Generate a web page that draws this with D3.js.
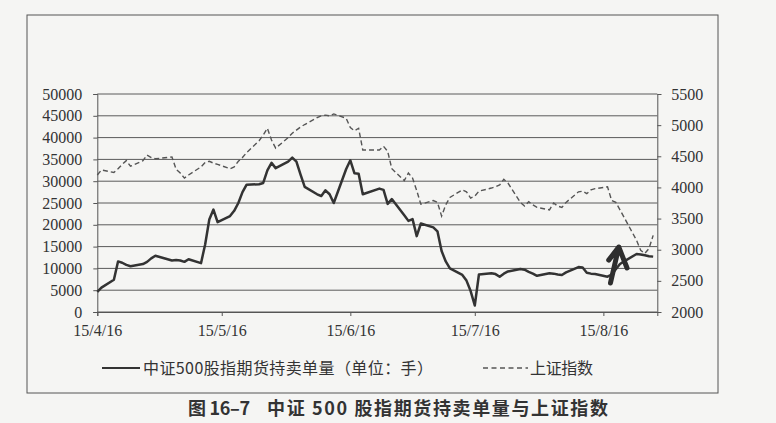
<!DOCTYPE html>
<html><head><meta charset="utf-8">
<script src="https://cdn.jsdelivr.net/npm/d3@7"></script>
<style>html,body{margin:0;padding:0;background:#f5f5f3;} svg{display:block}
.ax text{font-family:"Liberation Serif","Times New Roman","DejaVu Serif",serif !important;font-size:16px !important;fill:#333;}
.cjk{font-family:"Noto Sans CJK SC","Noto Sans",sans-serif;}
</style>
</head><body><svg id="c" width="776" height="423"></svg>
<script>
// ---- data ----
const dates = [
"2015-04-16","2015-04-17","2015-04-20","2015-04-21","2015-04-22","2015-04-23","2015-04-24","2015-04-27","2015-04-28","2015-04-29","2015-04-30",
"2015-05-04","2015-05-05","2015-05-06","2015-05-07","2015-05-08","2015-05-11","2015-05-12","2015-05-13","2015-05-14","2015-05-15",
"2015-05-18","2015-05-19","2015-05-20","2015-05-21","2015-05-22","2015-05-25","2015-05-26","2015-05-27","2015-05-28","2015-05-29",
"2015-06-01","2015-06-02","2015-06-03","2015-06-04","2015-06-05","2015-06-08","2015-06-09","2015-06-10","2015-06-11","2015-06-12",
"2015-06-15","2015-06-16","2015-06-17","2015-06-18","2015-06-19","2015-06-23","2015-06-24","2015-06-25","2015-06-26","2015-06-29","2015-06-30",
"2015-07-01","2015-07-02","2015-07-03","2015-07-06","2015-07-07","2015-07-08","2015-07-09","2015-07-10","2015-07-13","2015-07-14","2015-07-15",
"2015-07-16","2015-07-17","2015-07-20","2015-07-21","2015-07-22","2015-07-23","2015-07-24","2015-07-27","2015-07-28","2015-07-29","2015-07-30","2015-07-31",
"2015-08-03","2015-08-04","2015-08-05","2015-08-06","2015-08-07","2015-08-10","2015-08-11","2015-08-12","2015-08-13","2015-08-14",
"2015-08-17","2015-08-18","2015-08-19","2015-08-20","2015-08-21","2015-08-24","2015-08-25","2015-08-26","2015-08-27","2015-08-28"
];
const holdings = [
4600,5600,7400,11600,11300,10800,10500,11000,11500,12300,12900,
11800,11900,11800,11500,12100,11200,15500,21200,23500,20600,
22000,23200,25000,27500,29200,29300,29600,32500,34200,33000,
34500,35400,34500,31500,28700,27000,26600,27900,27000,25000,
32800,34800,31800,31700,27000,28300,28000,24800,25900,22200,20900,
21300,17400,20300,19400,18500,14000,11600,10000,8500,7200,4800,
1500,8600,8900,8700,8100,8800,9300,9850,9700,9200,8800,8300,
8900,8800,8600,8500,9100,10300,10200,9000,8800,8700,
8100,8600,9800,11000,11600,13300,13200,13000,12800,12700
];
const shIndex = [
4200,4280,4240,4300,4370,4430,4340,4430,4520,4480,4460,
4490,4290,4230,4150,4200,4330,4400,4420,4390,4370,
4300,4330,4420,4480,4560,4750,4840,4950,4760,4630,
4800,4870,4920,4970,5010,5120,5150,5160,5150,5180,
5110,4960,4910,4950,4600,4600,4660,4580,4300,4110,4230,
4150,3950,3730,3790,3760,3540,3720,3840,3960,3930,3830,
3860,3940,3990,4010,4040,4130,4070,3760,3700,3770,3720,3680,
3640,3750,3700,3680,3760,3930,3940,3900,3960,3980,
4010,3790,3760,3640,3520,3150,2990,2940,3020,3230
];
const leftTicks = [0,5000,10000,15000,20000,25000,30000,35000,40000,45000,50000];
const rightTicks = [2000,2500,3000,3500,4000,4500,5000,5500];
const xTickDates = ["2015-04-16","2015-05-16","2015-06-16","2015-07-16","2015-08-16"];
const xDomain = ["2015-04-16","2015-08-29"];
const legendLabels = ["中证500股指期货持卖单量（单位：手）","上证指数"];
const captionParts = ["图 16–7","中证 500 股指期货持卖单量与上证指数"];
// hand-drawn arrow annotation (tail, tip, left wing, right wing) as [date-time, left-axis value]
const arrowMark = [["2015-08-17T17:00",6650],["2015-08-19T17:00",14900],["2015-08-17T07:00",11900],["2015-08-21T17:00",10100]];

// ---- layout ----
const W=776,H=423;
const L=97.3,R=657.3,T=94,B=312;
const parse=d3.utcParse("%Y-%m-%d");
const parseT=d3.utcParse("%Y-%m-%dT%H:%M");
const svg=d3.select("#c");
const ink="#333";

svg.append("rect").attr("width",W).attr("height",H).attr("fill","#f5f5f3");
// frame
svg.append("rect").attr("x",27).attr("y",15).attr("width",691).attr("height",378)
  .attr("fill","none").attr("stroke","#555").attr("stroke-width",1);

const x=d3.scaleUtc().domain(xDomain.map(parse)).range([L,R]);
const yL=d3.scaleLinear().domain([0,50000]).range([B,T]);
const yR=d3.scaleLinear().domain([2000,5500]).range([B,T]);

// gridlines
svg.append("g").selectAll("line").data(leftTicks).join("line")
  .attr("x1",L).attr("x2",R).attr("y1",d=>yL(d)).attr("y2",d=>yL(d))
  .attr("stroke","#5a5a5a").attr("stroke-width",1);

// left axis
const gl=svg.append("g").attr("class","ax").attr("transform",`translate(${L},0)`)
  .call(d3.axisLeft(yL).tickValues(leftTicks).tickSize(4).tickPadding(11).tickFormat(d3.format("d")));
// right axis
const gr=svg.append("g").attr("class","ax").attr("transform",`translate(${R},0)`)
  .call(d3.axisRight(yR).tickValues(rightTicks).tickSize(4).tickPadding(10).tickFormat(d3.format("d")));
// bottom axis
const gb=svg.append("g").attr("class","ax").attr("transform",`translate(0,${B})`)
  .call(d3.axisBottom(x).tickValues(xTickDates.map(parse)).tickSize(4).tickPadding(9).tickFormat(d3.utcFormat("%y/%-m/%d")));
[gl,gr,gb].forEach(g=>{
  g.attr("font-family",null).attr("font-size",null);
  g.select(".domain").attr("stroke","#555").attr("stroke-width",1);
  g.selectAll(".tick line").attr("stroke","#555");
});

const pts=dates.map((d,i)=>({d:parse(d),h:holdings[i],s:shIndex[i]}));
// Shanghai index dashed
svg.append("path").datum(pts)
  .attr("d",d3.line().x(p=>x(p.d)).y(p=>yR(p.s)))
  .attr("fill","none").attr("stroke","#555").attr("stroke-width",1.4)
  .attr("stroke-dasharray","5,3");
// holdings solid
svg.append("path").datum(pts)
  .attr("d",d3.line().x(p=>x(p.d)).y(p=>yL(p.h)))
  .attr("fill","none").attr("stroke",ink).attr("stroke-width",2.5)
  .attr("stroke-linejoin","round");

// arrow annotation
const ap=arrowMark.map(a=>[x(parseT(a[0])),yL(a[1])]);
svg.append("path")
  .attr("d",`M${ap[0]}L${ap[1]}M${ap[2]}L${ap[1]}L${ap[3]}`)
  .attr("fill","none").attr("stroke","#2e2e2e").attr("stroke-width",5)
  .attr("stroke-linecap","round").attr("stroke-linejoin","round");

// legend
const lg=svg.append("g").attr("class","cjk").attr("font-size",16).attr("fill","#333");
lg.append("line").attr("x1",102).attr("x2",140).attr("y1",368).attr("y2",368)
  .attr("stroke",ink).attr("stroke-width",2);
lg.append("text").attr("x",143).attr("y",374).attr("textLength",290).attr("lengthAdjust","spacing").text(legendLabels[0]);
lg.append("line").attr("x1",483).attr("x2",528).attr("y1",368).attr("y2",368)
  .attr("stroke","#555").attr("stroke-width",1.4).attr("stroke-dasharray","5,3.5");
lg.append("text").attr("x",530).attr("y",374).attr("textLength",63).attr("lengthAdjust","spacing").text(legendLabels[1]);

// caption
const cg=svg.append("g").attr("class","cjk").attr("font-size",18).attr("font-weight","bold").attr("fill","#333");
cg.append("text").attr("x",188).attr("y",415).attr("textLength",62).attr("lengthAdjust","spacing").text(captionParts[0]);
cg.append("text").attr("x",267).attr("y",415).attr("textLength",341).attr("lengthAdjust","spacing").text(captionParts[1]);
</script></body></html>
